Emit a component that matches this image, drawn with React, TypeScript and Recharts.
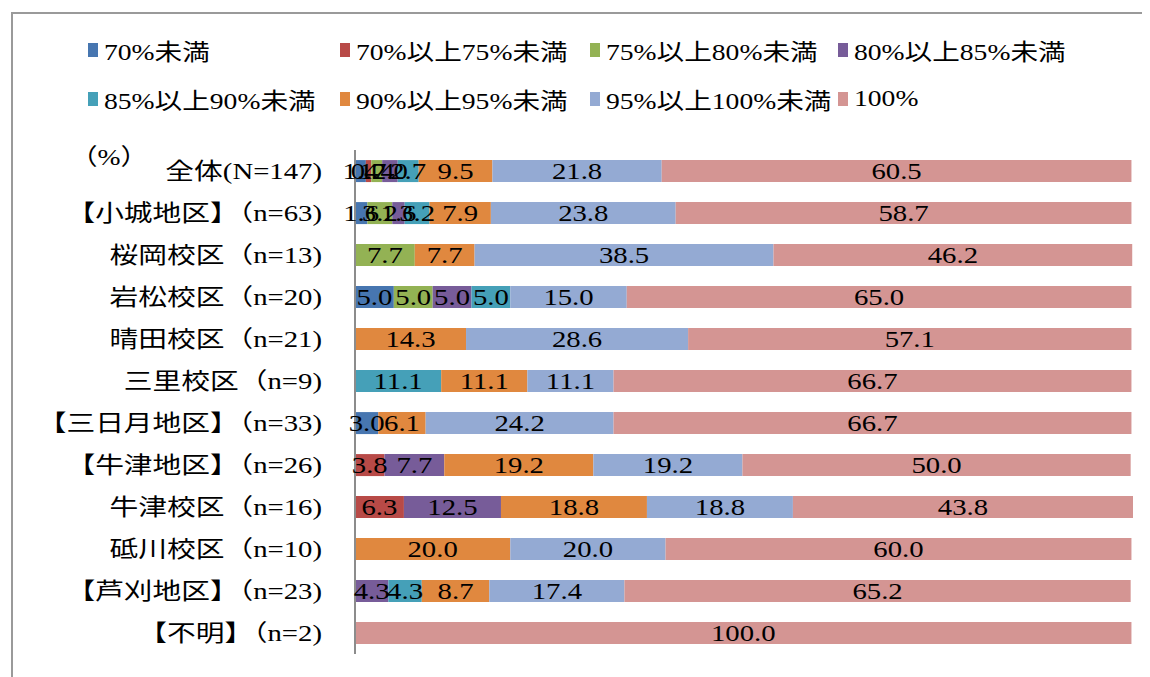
import { Bar, BarChart, LabelList, XAxis, YAxis } from "recharts";

const categories = [
  "全体(N=147)",
  "【小城地区】（n=63)",
  "桜岡校区（n=13)",
  "岩松校区（n=20)",
  "晴田校区（n=21)",
  "三里校区（n=9)",
  "【三日月地区】（n=33)",
  "【牛津地区】（n=26)",
  "牛津校区（n=16)",
  "砥川校区（n=10)",
  "【芦刈地区】（n=23)",
  "【不明】（n=2)",
];

const under70 = [1.4, 1.6, null, 5.0, null, null, 3.0, null, null, null, null, null];
const from70to75 = [0.7, null, null, null, null, null, null, 3.8, 6.3, null, null, null];
const from75to80 = [1.4, 3.2, 7.7, 5.0, null, null, null, null, null, null, null, null];
const from80to85 = [2.0, 1.6, null, 5.0, null, null, null, 7.7, 12.5, null, 4.3, null];
const from85to90 = [2.7, 3.2, null, 5.0, null, 11.1, null, null, null, null, 4.3, null];
const from90to95 = [9.5, 7.9, 7.7, null, 14.3, 11.1, 6.1, 19.2, 18.8, 20.0, 8.7, null];
const from95to100 = [21.8, 23.8, 38.5, 15.0, 28.6, 11.1, 24.2, 19.2, 18.8, 20.0, 17.4, null];
const full = [60.5, 58.7, 46.2, 65.0, 57.1, 66.7, 66.7, 50.0, 43.8, 60.0, 65.2, 100.0];

const series = [
  { key: "s1", name: "70%未満", values: under70, color: "#4776B0" },
  { key: "s2", name: "70%以上75%未満", values: from70to75, color: "#B84A47" },
  { key: "s3", name: "75%以上80%未満", values: from75to80, color: "#93B254" },
  { key: "s4", name: "80%以上85%未満", values: from80to85, color: "#775C99" },
  { key: "s5", name: "85%以上90%未満", values: from85to90, color: "#45A0B8" },
  { key: "s6", name: "90%以上95%未満", values: from90to95, color: "#E0883F" },
  { key: "s7", name: "95%以上100%未満", values: from95to100, color: "#94AAD3" },
  { key: "s8", name: "100%", values: full, color: "#D49593" },
];

const data = categories.map((name, i) => {
  const row: Record<string, string | number | null> = { name };
  series.forEach((s) => {
    row[s.key] = s.values[i];
  });
  return row;
});

const FONT = "'Liberation Serif', 'DejaVu Serif', 'Noto Sans CJK JP', serif";
// the reference text looks horizontally stretched
const STRETCH = 1.25;

function LegendBox() {
  return (
    <div
      style={{
        position: "absolute",
        left: 80,
        top: 28,
        display: "grid",
        gridTemplateColumns: "252px 250px 248px 260px",
        rowGap: 21,
        fontFamily: FONT,
        fontSize: 23,
        color: "#000",
      }}
    >
      {series.map((s) => (
        <div key={s.key} style={{ display: "flex", alignItems: "center", height: 28 }}>
          <span
            style={{
              display: "inline-block",
              width: 10,
              height: 14,
              background: s.color,
              marginRight: 6,
            }}
          />
          <span
            style={{
              display: "inline-block",
              whiteSpace: "nowrap",
              transform: "scaleX(1.2)",
              transformOrigin: "left center",
            }}
          >
            {s.name}
          </span>
        </div>
      ))}
    </div>
  );
}

function CategoryTick(props: any) {
  const { x, y, payload } = props;
  return (
    <text
      transform={`translate(${x - 25},${y + 8}) scale(${STRETCH},1)`}
      textAnchor="end"
      fontFamily={FONT}
      fontSize={23}
      fill="#000"
    >
      {payload.value}
    </text>
  );
}

function SegmentLabel(props: any) {
  const { x, y, width, height, value } = props;
  if (value == null) return null;
  return (
    <text
      transform={`translate(${x + width / 2},${y + height / 2 + 8}) scale(${STRETCH},1)`}
      textAnchor="middle"
      fontFamily={FONT}
      fontSize={23}
      fill="#000"
    >
      {Number(value).toFixed(1)}
    </text>
  );
}

export default function App() {
  return (
    <div
      style={{
        position: "relative",
        width: 1142,
        height: 669,
        overflow: "hidden",
        background: "#fff",
      }}
    >
      <div
        style={{
          position: "absolute",
          left: 3,
          top: 4,
          width: 1200,
          height: 720,
          border: "2px solid #9a9a9a",
        }}
      />
      <LegendBox />
      <div
        style={{
          position: "absolute",
          left: 62,
          top: 130,
          fontFamily: FONT,
          fontSize: 23,
          transform: "scaleX(1.2)",
          transformOrigin: "left center",
        }}
      >
        （%）
      </div>
      <BarChart
        width={1142}
        height={669}
        data={data}
        layout="vertical"
        margin={{ top: 142, right: 17, bottom: 23, left: 0 }}
        barCategoryGap="24%"
        style={{ position: "absolute", left: 0, top: 0 }}
      >
        <XAxis type="number" domain={[0, 100]} hide />
        <YAxis
          type="category"
          dataKey="name"
          width={347}
          axisLine={{ stroke: "#8c8c8c", strokeWidth: 2 }}
          tickLine={false}
          tick={<CategoryTick />}
          interval={0}
        />
        {series.map((s) => (
          <Bar
            key={s.key}
            dataKey={s.key}
            name={s.name}
            stackId="a"
            fill={s.color}
            isAnimationActive={false}
          >
            <LabelList dataKey={s.key} content={<SegmentLabel />} />
          </Bar>
        ))}
      </BarChart>
    </div>
  );
}
